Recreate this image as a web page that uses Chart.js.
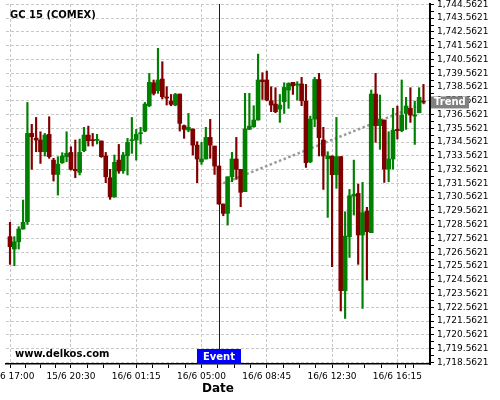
<!DOCTYPE html>
<html>
<head>
<meta charset="utf-8">
<title>GC 15 (COMEX)</title>
<script src="https://cdn.jsdelivr.net/npm/chart.js@4/dist/chart.umd.min.js"></script>
<style>
  html, body { margin: 0; padding: 0; background: #fff; }
  #wrap { width: 500px; height: 400px; position: relative; }
</style>
</head>
<body>
<div id="wrap"><canvas id="priceChart"></canvas></div>
<script>
// 15 min candles, 15/6 17:00 -> 16/6 ~16:45
const opens = [
  1727.69, 1726.79, 1727.32, 1728.24, 1728.78, 1735.19, 1734.85, 1734.71, 1733.86, 1735.12,
  1733.25, 1732.21, 1733.06, 1733.50, 1733.81, 1732.58, 1732.36, 1733.93, 1735.07, 1734.71,
  1734.68, 1734.64, 1733.55, 1731.97, 1730.59, 1733.25, 1732.48, 1733.57, 1734.66, 1734.71,
  1735.17, 1735.36, 1737.20, 1738.87, 1738.29, 1739.14, 1737.81, 1737.54, 1737.25, 1738.05,
  1735.75, 1735.43, 1735.51, 1734.34, 1733.13, 1733.33, 1734.90, 1734.27, 1732.82, 1730.06,
  1729.38, 1732.04, 1733.33, 1732.58, 1730.96, 1735.48, 1735.68, 1736.16, 1739.07, 1739.07,
  1737.56, 1737.32, 1736.96, 1737.49, 1738.34, 1738.90, 1738.70, 1738.78, 1737.54, 1733.13,
  1736.23, 1739.11, 1734.71, 1733.35, 1733.55, 1732.19, 1733.50, 1723.76, 1727.69, 1730.64,
  1730.83, 1727.81, 1729.55, 1727.98, 1738.05, 1735.75, 1736.16, 1732.60, 1733.33, 1735.48,
  1735.39, 1736.64, 1737.01, 1736.45, 1736.69, 1737.54
];
const highs = [
  1728.73, 1727.69, 1728.41, 1730.35, 1737.44, 1735.85, 1736.35, 1735.31, 1735.19, 1736.40,
  1733.38, 1733.50, 1733.79, 1735.31, 1734.22, 1734.71, 1734.78, 1735.63, 1735.72, 1735.19,
  1735.12, 1734.64, 1733.81, 1732.58, 1733.62, 1734.39, 1733.81, 1734.83, 1736.35, 1735.48,
  1735.63, 1737.44, 1739.55, 1739.07, 1741.37, 1740.40, 1738.58, 1738.02, 1738.10, 1738.05,
  1735.80, 1736.64, 1735.51, 1734.59, 1734.54, 1735.63, 1736.21, 1734.27, 1732.82, 1730.06,
  1732.04, 1733.81, 1734.90, 1732.58, 1738.10, 1738.10, 1737.20, 1740.95, 1739.60, 1739.72,
  1738.58, 1738.51, 1738.02, 1738.87, 1738.87, 1738.90, 1738.95, 1739.26, 1738.75, 1736.45,
  1739.26, 1739.55, 1735.63, 1733.86, 1733.55, 1736.35, 1733.50, 1729.50, 1731.12, 1733.25,
  1731.51, 1731.63, 1729.82, 1738.34, 1739.55, 1737.98, 1736.16, 1735.31, 1737.01, 1737.18,
  1739.07, 1737.81, 1738.51, 1737.54, 1738.51, 1738.75
];
const lows = [
  1725.68, 1725.58, 1726.79, 1728.24, 1728.58, 1732.58, 1733.86, 1733.01, 1733.55, 1733.38,
  1731.73, 1730.71, 1733.01, 1733.13, 1732.53, 1731.97, 1732.17, 1733.86, 1734.27, 1734.27,
  1734.42, 1733.45, 1731.61, 1730.40, 1730.54, 1732.29, 1732.29, 1732.17, 1733.74, 1733.25,
  1734.42, 1735.31, 1737.13, 1737.98, 1738.10, 1737.69, 1737.25, 1737.20, 1737.20, 1735.36,
  1734.83, 1735.31, 1733.62, 1731.61, 1732.94, 1733.33, 1733.38, 1732.21, 1730.04, 1729.21,
  1728.53, 1731.68, 1731.85, 1729.87, 1730.96, 1735.48, 1735.63, 1736.16, 1737.66, 1737.56,
  1736.77, 1736.69, 1735.99, 1736.64, 1737.01, 1738.02, 1737.61, 1737.20, 1732.72, 1733.06,
  1735.68, 1733.55, 1731.12, 1729.09, 1725.51, 1731.20, 1722.29, 1721.75, 1726.18, 1729.26,
  1725.68, 1722.48, 1724.54, 1727.98, 1734.54, 1734.03, 1731.63, 1731.68, 1732.60, 1734.78,
  1735.31, 1735.48, 1735.99, 1734.39, 1736.69, 1737.37
];
const closes = [
  1726.96, 1727.32, 1728.24, 1728.73, 1735.19, 1734.95, 1734.71, 1733.86, 1735.07, 1733.50,
  1732.21, 1732.96, 1733.55, 1733.74, 1732.58, 1732.48, 1733.81, 1735.07, 1734.66, 1734.66,
  1734.76, 1733.50, 1732.04, 1730.59, 1733.09, 1732.46, 1733.62, 1734.54, 1734.71, 1735.12,
  1735.22, 1737.32, 1738.90, 1738.10, 1739.07, 1737.86, 1737.76, 1737.30, 1738.02, 1735.92,
  1735.48, 1735.63, 1734.34, 1733.33, 1733.33, 1734.90, 1734.34, 1732.82, 1730.06, 1729.38,
  1732.04, 1733.33, 1732.58, 1730.91, 1735.51, 1735.72, 1736.16, 1739.07, 1738.95, 1737.61,
  1737.25, 1736.77, 1737.25, 1738.53, 1738.82, 1738.65, 1738.78, 1737.56, 1733.06, 1736.23,
  1739.11, 1734.88, 1733.55, 1733.55, 1732.19, 1733.50, 1723.76, 1727.73, 1730.66, 1730.76,
  1727.81, 1729.43, 1728.05, 1738.05, 1735.75, 1736.23, 1732.60, 1733.33, 1735.43, 1735.39,
  1736.52, 1737.18, 1736.52, 1736.52, 1737.81, 1737.47
];

// labelled candles on the date axis
const xTickIndex = [0, 14, 29, 44, 59, 74, 89];
const xTickLabels = ['15/6 17:00', '15/6 20:30', '16/6 01:15', '16/6 05:00', '16/6 08:45', '16/6 12:30', '16/6 16:15'];

// price axis
const yTickFirst = 1718.5621;
const yTickLast = 1744.5621;

// annotations
const eventIndex = 48;
const trendX = [49, 95.5];
const trendY = [1731.56, 1737.44];

const GREEN = '#008000';
const RED = '#800000';
Chart.defaults.font.family = "'DejaVu Sans', sans-serif";
Chart.defaults.font.size = 9;
Chart.defaults.color = '#000';

const candleColor = ctx => closes[ctx.dataIndex] >= opens[ctx.dataIndex] ? GREEN : RED;
const isMajorY = v => Math.round((v - yTickFirst) * 2) % 2 === 0;

function buildXTicks(scale) {
  const ticks = [];
  xTickIndex.forEach((v, i) => {
    ticks.push({ value: v, major: true });
    const next = i < xTickIndex.length - 1 ? xTickIndex[i + 1] : v + 7.5;
    const step = (next - v) / 4;
    const n = i < xTickIndex.length - 1 ? 3 : 2;
    for (let k = 1; k <= n; k++) ticks.push({ value: v + step * k, major: false });
  });
  scale.ticks = ticks;
}

function buildYTicks(scale) {
  const ticks = [];
  for (let v = yTickFirst; v <= yTickLast + 0.01; v += 0.5) ticks.push({ value: v });
  scale.ticks = ticks;
}

const overlay = {
  id: 'overlay',
  afterDatasetsDraw(chart) {
    const { ctx, chartArea, scales: { x } } = chart;
    const ex = Math.round(x.getPixelForValue(eventIndex)) + 0.5;
    ctx.save();
    ctx.strokeStyle = '#0000ff';
    ctx.lineWidth = 1;
    ctx.beginPath();
    ctx.moveTo(ex, chartArea.top);
    ctx.lineTo(ex, chartArea.bottom - 15);
    ctx.stroke();
    ctx.restore();
  },
  afterDraw(chart) {
    const { ctx, chartArea, scales: { x, y } } = chart;
    ctx.save();
    // event tag
    const ex = Math.round(x.getPixelForValue(eventIndex));
    ctx.fillStyle = '#0000ff';
    ctx.fillRect(ex - 22, chartArea.bottom - 15, 44, 15);
    ctx.fillStyle = '#fff';
    ctx.font = "bold 10px 'DejaVu Sans'";
    ctx.textAlign = 'center';
    ctx.textBaseline = 'middle';
    ctx.fillText('Event', ex, chartArea.bottom - 7);

    // trend tag, over the price labels
    const ty = y.getPixelForValue(trendY[1]);
    ctx.fillStyle = '#808080';
    ctx.fillRect(chartArea.right + 1, ty - 6, 38, 12);
    ctx.fillStyle = '#fff';
    ctx.textAlign = 'left';
    ctx.fillText('Trend', chartArea.right + 4, ty);

    // title and site
    ctx.fillStyle = '#000';
    ctx.font = "bold 10px 'DejaVu Sans'";
    ctx.fillText('GC 15 (COMEX)', 10, 15.5);
    ctx.fillText('www.delkos.com', 15, 354);
    ctx.restore();
  }
};

new Chart(document.getElementById('priceChart'), {
  type: 'bar',
  data: {
    datasets: [
      {
        type: 'line',
        data: trendX.map((v, i) => ({ x: v, y: trendY[i] })),
        borderColor: '#9a9a9a',
        borderWidth: 2.5,
        borderDash: [2.5, 2.5],
        pointRadius: 0,
        order: 3
      },
      {
        data: opens.map((o, i) => ({ x: i, y: [lows[i], highs[i]] })),
        backgroundColor: candleColor,
        barThickness: 1.5,
        grouped: false,
        borderWidth: 0,
        order: 2
      },
      {
        data: opens.map((o, i) => ({ x: i, y: [o, closes[i]] })),
        backgroundColor: candleColor,
        barThickness: 4,
        minBarLength: 1,
        grouped: false,
        borderWidth: 0,
        order: 1
      }
    ]
  },
  options: {
    responsive: true,
    maintainAspectRatio: false,
    animation: false,
    layout: { padding: { left: 6, top: 4, right: 0, bottom: 0 } },
    plugins: { legend: { display: false }, tooltip: { enabled: false } },
    scales: {
      x: {
        type: 'linear',
        min: -0.92,
        max: 96.5,
        offset: false,
        afterBuildTicks: buildXTicks,
        afterFit(scale) { scale.height = 36; scale.paddingLeft = 0; scale.paddingRight = 0; },
        grid: {
          offset: false,
          color: ctx => ctx.tick && ctx.tick.major ? '#c8c8c8' : 'transparent',
          tickColor: '#000',
          tickLength: 4,
          drawTicks: true
        },
        border: { color: '#000', width: 1.5, dash: [3, 2] },
        ticks: {
          autoSkip: false,
          maxRotation: 0,
          padding: 3,
          callback(value) {
            const k = xTickIndex.indexOf(value);
            return k >= 0 ? xTickLabels[k] : '';
          }
        },
        title: {
          display: true,
          text: 'Date',
          font: { size: 12, weight: 'bold' },
          padding: { top: 0, bottom: 4 }
        }
      },
      y: {
        position: 'right',
        min: 1718.44,
        max: 1744.59,
        beginAtZero: false,
        afterBuildTicks: buildYTicks,
        afterFit(scale) { scale.width = 70; scale.paddingTop = 0; scale.paddingBottom = 0; },
        grid: {
          color: ctx => ctx.tick && isMajorY(ctx.tick.value) ? '#c8c8c8' : 'transparent',
          tickColor: '#000',
          tickLength: 4
        },
        border: { color: '#000', width: 2, dash: [3, 2] },
        ticks: {
          autoSkip: false,
          padding: 3,
          callback(value) {
            if (!isMajorY(value)) return '';
            return value.toLocaleString('en-US', { minimumFractionDigits: 4, maximumFractionDigits: 4 });
          }
        }
      }
    }
  },
  plugins: [overlay]
});
</script>
</body>
</html>
